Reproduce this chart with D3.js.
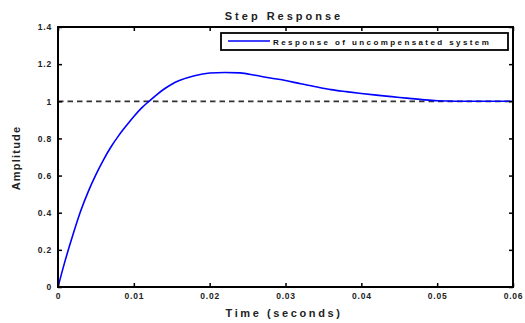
<!DOCTYPE html>
<html><head><meta charset="utf-8">
<script src="https://cdn.jsdelivr.net/npm/d3@7"></script>
<style>
html,body{margin:0;padding:0;background:#fff;}
svg{display:block;font-family:"Liberation Sans",Arial,sans-serif;}
</style></head>
<body><svg id="c" width="525" height="323"></svg>
<script>
const time = [0,0.001,0.002,0.003,0.004,0.005,0.006,0.007,0.008,0.009,0.010,0.011,0.012,0.013,0.014,0.015,0.016,0.018,0.020,0.022,0.024,0.026,0.028,0.030,0.032,0.034,0.036,0.038,0.040,0.042,0.044,0.046,0.048,0.050,0.055,0.060];
const amplitude = [0,0.15,0.285,0.41,0.515,0.605,0.685,0.755,0.815,0.868,0.918,0.963,1.0,1.035,1.066,1.092,1.112,1.138,1.152,1.155,1.153,1.14,1.125,1.112,1.094,1.078,1.063,1.052,1.042,1.033,1.025,1.017,1.009,1.003,1.0,1.0];
const reference = [1,1];
const xTicks = [0,0.01,0.02,0.03,0.04,0.05,0.06];
const xTickLabels = ["0","0.01","0.02","0.03","0.04","0.05","0.06"];
const yTicks = [0,0.2,0.4,0.6,0.8,1,1.2,1.4];
const yTickLabels = ["0","0.2","0.4","0.6","0.8","1","1.2","1.4"];
const title = "Step Response";
const xLabel = "Time (seconds)";
const yLabel = "Amplitude";
const legendLabel = "Response of uncompensated system";

const svg = d3.select("#c");
const L=58,R=513,T=27,B=287;
const x = d3.scaleLinear().domain([0,0.06]).range([L,R]);
const y = d3.scaleLinear().domain([0,1.4]).range([B,T]);

// dashed reference
svg.append("line").attr("x1",x(0)).attr("x2",x(0.06)).attr("y1",y(reference[0])).attr("y2",y(reference[1]))
  .attr("stroke","#333").attr("stroke-width",1.7).attr("stroke-dasharray","5.5,4");

// curve
const pts = time.map((t,i)=>[t,amplitude[i]]);
svg.append("path").datum(pts)
  .attr("d",d3.line().x(d=>x(d[0])).y(d=>y(d[1])).curve(d3.curveMonotoneX))
  .attr("fill","none").attr("stroke","#0000ff").attr("stroke-width",1.6);

// axes
const ax = svg.append("g").attr("transform",`translate(0,${B})`)
  .call(d3.axisBottom(x).tickValues(xTicks).tickFormat((d,i)=>xTickLabels[i]).tickSize(-4).tickPadding(6));
const ay = svg.append("g").attr("transform",`translate(${L},0)`)
  .call(d3.axisLeft(y).tickValues(yTicks).tickFormat((d,i)=>yTickLabels[i]).tickSize(-4).tickPadding(6));
const axT = svg.append("g").attr("transform",`translate(0,${T})`)
  .call(d3.axisTop(x).tickValues(xTicks).tickFormat("").tickSize(-4));
const ayR = svg.append("g").attr("transform",`translate(${R},0)`)
  .call(d3.axisRight(y).tickValues(yTicks).tickFormat("").tickSize(-4));
[ax,ay,axT,ayR].forEach(g=>{
  g.select(".domain").remove();
  g.selectAll(".tick line").attr("stroke","#000").attr("stroke-width",1.5);
  g.selectAll(".tick text").attr("font-size",8.5).attr("fill","#222").attr("font-weight","bold")
    .attr("letter-spacing","0.8px").attr("font-family","\"Liberation Sans\",Arial,sans-serif");
});
svg.append("rect").attr("x",L).attr("y",T).attr("width",R-L).attr("height",B-T)
  .attr("fill","none").attr("stroke","#000").attr("stroke-width",2);

// title & labels
svg.append("text").attr("x",284).attr("y",20).attr("text-anchor","middle")
  .attr("font-size",11).attr("font-weight","bold").attr("letter-spacing","3px").attr("fill","#222").text(title);
svg.append("text").attr("x",284).attr("y",317).attr("text-anchor","middle")
  .attr("font-size",11).attr("font-weight","bold").attr("letter-spacing","2.6px").attr("fill","#222").text(xLabel);
svg.append("text").attr("transform","translate(20,158) rotate(-90)").attr("text-anchor","middle")
  .attr("font-size",11).attr("font-weight","bold").attr("letter-spacing","1.2px").attr("fill","#222").text(yLabel);

// legend
const lg = svg.append("g");
lg.append("rect").attr("x",221).attr("y",33).attr("width",287).attr("height",17)
  .attr("fill","#fff").attr("stroke","#000").attr("stroke-width",1.8);
lg.append("line").attr("x1",228).attr("x2",270).attr("y1",41).attr("y2",41)
  .attr("stroke","#0000ff").attr("stroke-width",1.6);
lg.append("text").attr("x",273).attr("y",44.5).attr("font-size",8).attr("font-weight","bold")
  .attr("letter-spacing","2.4px").attr("fill","#111").text(legendLabel);
</script></body></html>
